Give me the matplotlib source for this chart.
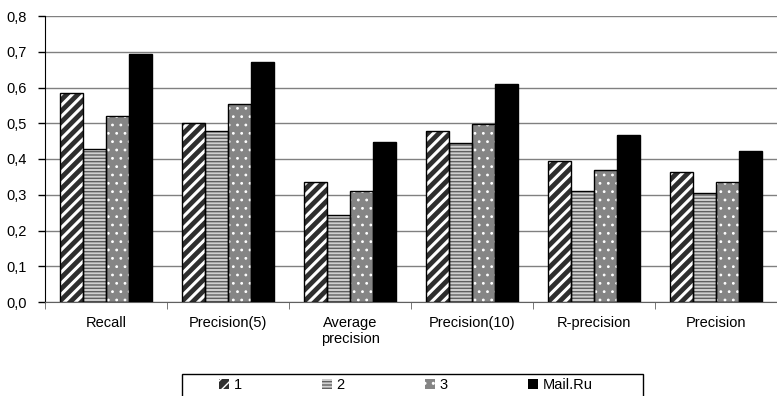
import matplotlib.pyplot as plt
from matplotlib.patches import Rectangle
import numpy as np

plt.rcParams['font.family'] = ['Liberation Sans', 'DejaVu Sans']
plt.rcParams['font.size'] = 10.5

categories = ['Recall', 'Precision(5)', 'Average\nprecision', 'Precision(10)',
              'R-precision', 'Precision']
series_names = ['1', '2', '3', 'Mail.Ru']
s1 = [0.584, 0.500, 0.337, 0.479, 0.395, 0.365]
s2 = [0.429, 0.477, 0.243, 0.446, 0.311, 0.306]
s3 = [0.519, 0.553, 0.310, 0.497, 0.368, 0.336]
mail = [0.695, 0.672, 0.447, 0.610, 0.467, 0.422]
yticks = [0.0, 0.1, 0.2, 0.3, 0.4, 0.5, 0.6, 0.7, 0.8]

# face, hatch, hatch colour, hatch linewidth for each series
styles = [
    ('#2e2e2e', '///', 'white', 2.2),
    ('#d0d0d0', '-----', '#606060', 1.0),
    ('#858585', '..', 'white', 0.8),
    ('black', None, 'black', 1.0),
]

fig = plt.figure(figsize=(7.77, 3.96), dpi=100)
ax = fig.add_axes([45 / 777, 1 - 302 / 396, 732 / 777, 286 / 396])

x = np.arange(len(categories))
w = 0.187
handles = []
for i, (vals, name, (fc, hatch, hc, hlw)) in enumerate(zip([s1, s2, s3, mail], series_names, styles)):
    pos = x + (i - 1.5) * w
    with plt.rc_context({'hatch.linewidth': hlw}):
        h = ax.bar(pos, vals, w, color=fc, edgecolor=hc, hatch=hatch, linewidth=0,
                   label=name, zorder=3)
    ax.bar(pos, vals, w, facecolor='none', edgecolor='black', linewidth=1, zorder=4)
    handles.append(h)

ax.set_xlim(-0.5, len(categories) - 0.5)
ax.set_ylim(0, 0.8)
ax.set_yticks(yticks)
ax.set_yticklabels([f'{v:.1f}'.replace('.', ',') for v in yticks])
ax.yaxis.grid(True, color='#808080', linewidth=1)
ax.set_axisbelow(True)

ax.set_xticks(x)
ax.set_xticklabels(categories)
ax.tick_params(axis='x', length=0, pad=10)
ax.set_xticks(np.arange(len(categories) + 1) - 0.5, minor=True)
ax.tick_params(axis='x', which='minor', length=5, color='#606060')
ax.tick_params(axis='y', length=5, width=1, pad=8, color='black')

for side in ['top', 'right']:
    ax.spines[side].set_visible(False)
ax.spines['left'].set_color('black')
ax.spines['bottom'].set_color('#606060')

# legend box runs off the bottom edge of the figure
fig.patches.append(Rectangle((182 / 777, -0.01), 461 / 777, 0.01 + 22 / 396,
                             transform=fig.transFigure, facecolor='white',
                             edgecolor='black', linewidth=1))
leg = fig.legend(handles=handles, loc='center left', ncol=4,
                 bbox_to_anchor=(219 / 777, 1 - 385 / 396), borderaxespad=0,
                 frameon=False, handlelength=0.7, handleheight=0.7,
                 handletextpad=0.3, columnspacing=5.5, borderpad=0)

fig.savefig('out.png', dpi=100)
